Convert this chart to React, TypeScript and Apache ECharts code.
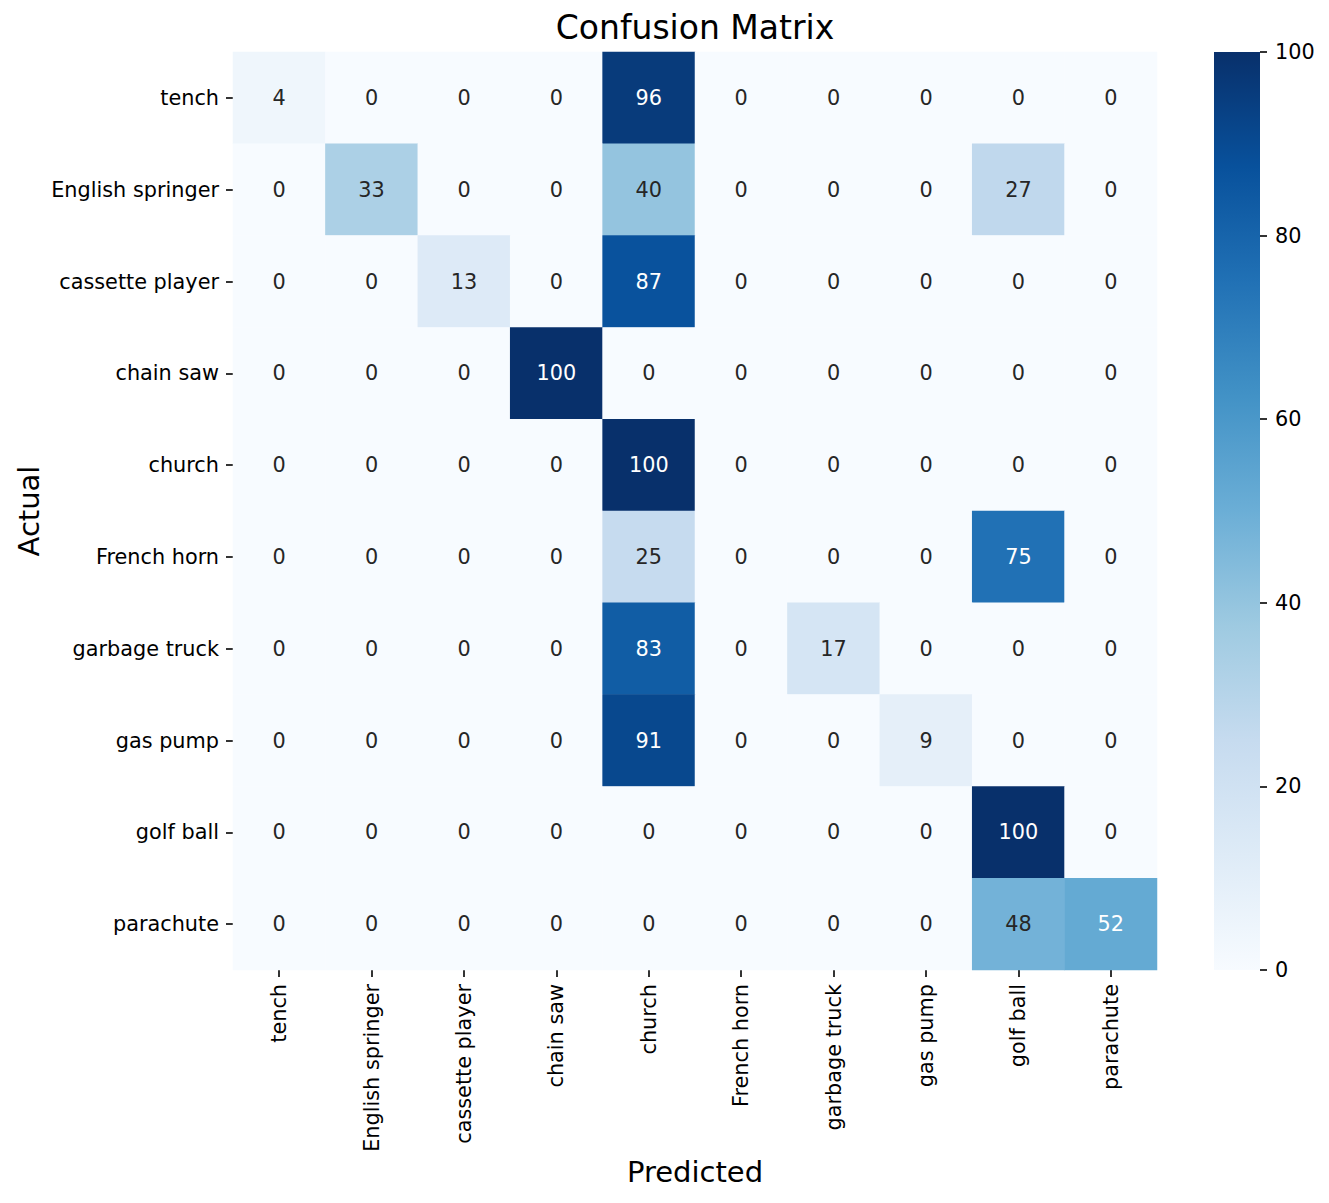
import React, { useEffect, useRef } from "react";
import * as echarts from "echarts";

const classes = [
  "tench",
  "English springer",
  "cassette player",
  "chain saw",
  "church",
  "French horn",
  "garbage truck",
  "gas pump",
  "golf ball",
  "parachute",
];

// rows = actual, columns = predicted
const matrix: number[][] = [
  [4, 0, 0, 0, 96, 0, 0, 0, 0, 0],
  [0, 33, 0, 0, 40, 0, 0, 0, 27, 0],
  [0, 0, 13, 0, 87, 0, 0, 0, 0, 0],
  [0, 0, 0, 100, 0, 0, 0, 0, 0, 0],
  [0, 0, 0, 0, 100, 0, 0, 0, 0, 0],
  [0, 0, 0, 0, 25, 0, 0, 0, 75, 0],
  [0, 0, 0, 0, 83, 0, 17, 0, 0, 0],
  [0, 0, 0, 0, 91, 0, 0, 9, 0, 0],
  [0, 0, 0, 0, 0, 0, 0, 0, 100, 0],
  [0, 0, 0, 0, 0, 0, 0, 0, 48, 52],
];

const colorbarTicks = [0, 20, 40, 60, 80, 100];

const BLUES = [
  "#f7fbff",
  "#deebf7",
  "#c6dbef",
  "#9ecae1",
  "#6baed6",
  "#4292c6",
  "#2171b5",
  "#08519c",
  "#08306b",
];

const FONT = "DejaVu Sans";
const TICK_FS = 20.8;

export default function App() {
  const ref = useRef<HTMLDivElement>(null);
  useEffect(() => {
    if (!ref.current) return;
    const chart = echarts.init(ref.current, undefined, { renderer: "svg" });
    const gl = 233,
      gt = 52,
      gw = 924,
      gh = 918;
    const cbl = 1214,
      cbw = 46;
    const data: any[] = [];
    matrix.forEach((row, r) =>
      row.forEach((v, c) => {
        data.push({
          value: [c, r, v],
          label: { color: v >= 50 ? "#ffffff" : "#262626" },
        });
      })
    );
    const tickStyle = { show: true, length: 7, lineStyle: { color: "#000", width: 1.6 } };
    chart.setOption({
      animation: false,
      backgroundColor: "#ffffff",
      grid: [
        { left: gl, top: gt, width: gw, height: gh },
        { left: cbl, top: gt, width: cbw, height: gh },
      ],
      xAxis: [
        {
          type: "category",
          gridIndex: 0,
          data: classes,
          position: "bottom",
          axisLine: { show: false },
          axisTick: { ...tickStyle, alignWithLabel: true },
          axisLabel: {
            rotate: 90,
            interval: 0,
            margin: 14,
            fontFamily: FONT,
            fontSize: TICK_FS,
            color: "#000",
          },
          splitLine: { show: false },
        },
        { type: "value", gridIndex: 1, show: false, min: 0, max: 1 },
      ],
      yAxis: [
        {
          type: "category",
          gridIndex: 0,
          data: classes,
          inverse: true,
          axisLine: { show: false },
          axisTick: { ...tickStyle, alignWithLabel: true },
          axisLabel: {
            interval: 0,
            margin: 14,
            fontFamily: FONT,
            fontSize: TICK_FS,
            color: "#000",
          },
          splitLine: { show: false },
        },
        {
          type: "value",
          gridIndex: 1,
          position: "right",
          min: colorbarTicks[0],
          max: colorbarTicks[colorbarTicks.length - 1],
          interval: colorbarTicks[1] - colorbarTicks[0],
          axisLine: { show: false, onZero: false },
          axisTick: tickStyle,
          axisLabel: {
            margin: 15,
            fontFamily: FONT,
            fontSize: TICK_FS,
            color: "#000",
          },
          splitLine: { show: false },
        },
      ],
      visualMap: {
        type: "continuous",
        show: false,
        min: 0,
        max: 100,
        seriesIndex: 0,
        inRange: { color: BLUES },
      },
      series: [
        {
          type: "heatmap",
          xAxisIndex: 0,
          yAxisIndex: 0,
          data,
          itemStyle: { borderWidth: 0 },
          label: {
            show: true,
            fontFamily: FONT,
            fontSize: TICK_FS,
            formatter: (p: any) => String(p.value[2]),
          },
          emphasis: { disabled: true },
        },
      ],
      graphic: [
        {
          type: "rect",
          shape: { x: cbl, y: gt, width: cbw, height: gh },
          silent: true,
          z: -1,
          style: {
            fill: new echarts.graphic.LinearGradient(
              0,
              1,
              0,
              0,
              BLUES.map((c, i) => ({ offset: i / (BLUES.length - 1), color: c }))
            ),
          },
        },
        {
          type: "text",
          x: gl + gw / 2,
          y: 27,
          style: {
            text: "Confusion Matrix",
            font: `33px "${FONT}"`,
            fill: "#000",
            textAlign: "center",
            textVerticalAlign: "middle",
          },
        },
        {
          type: "text",
          x: 695,
          y: 1172,
          style: {
            text: "Predicted",
            font: `29px "${FONT}"`,
            fill: "#000",
            textAlign: "center",
            textVerticalAlign: "middle",
          },
        },
        {
          type: "text",
          x: 29,
          y: 511,
          rotation: Math.PI / 2,
          style: {
            text: "Actual",
            font: `29px "${FONT}"`,
            fill: "#000",
            textAlign: "center",
            textVerticalAlign: "middle",
          },
        },
      ],
    });
    return () => chart.dispose();
  }, []);
  return (
    <div
      ref={ref}
      style={{ position: "fixed", left: 0, top: 0, width: 1329, height: 1203 }}
    />
  );
}
